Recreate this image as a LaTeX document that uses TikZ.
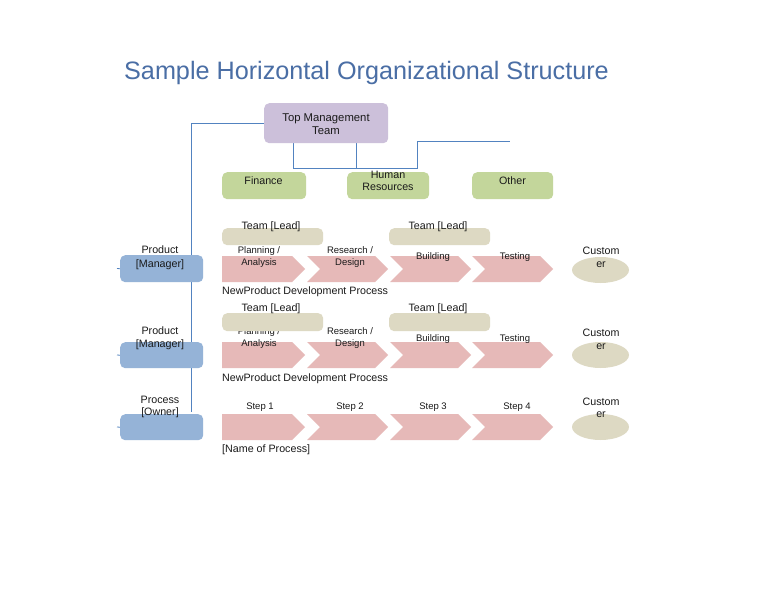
\documentclass[tikz,border=0pt]{standalone}
\usepackage{fontspec}
\setmainfont{Liberation Sans}
\usetikzlibrary{backgrounds,shapes.geometric}
\definecolor{titlec}{HTML}{4A6EA5}
\definecolor{linec}{HTML}{5283C0}
\definecolor{purplec}{HTML}{CCC0DA}
\definecolor{greenc}{HTML}{C3D69B}
\definecolor{beigec}{HTML}{DDD9C3}
\definecolor{pinkc}{HTML}{E6B9B8}
\definecolor{bluec}{HTML}{95B3D7}
\definecolor{textc}{HTML}{1A1A1A}
\newcommand\mkchev[3]{\fill[pinkc] (#1,#3) -- (#2-13,#3) -- (#2,#3+13) -- (#2-13,#3+26) -- (#1,#3+26) -- (#1+13,#3+13) -- cycle;}
\newcommand\mkpent[3]{\fill[pinkc] (#1,#3) -- (#2-13,#3) -- (#2,#3+13) -- (#2-13,#3+26) -- (#1,#3+26) -- cycle;}
\tikzset{
  conn/.style={draw=linec, line width=0.8pt},
  rbox/.style={rounded corners=5pt, inner sep=0pt, anchor=north west, draw=none},
  txt/.style={inner sep=0pt, align=center, text=textc, yshift=-1.2pt, font=\fontsize{10.7}{13}\selectfont},
  stxt/.style={inner sep=0pt, align=center, text=textc, yshift=-1.2pt, font=\fontsize{9.5}{12}\selectfont},
  cust/.style={ellipse, fill=beigec, minimum width=57pt, minimum height=26pt, inner sep=0pt},
}
\begin{document}
\begin{tikzpicture}[x=1pt,y=-1pt]
\useasboundingbox (0,0) rectangle (768,594);

% title
\node[inner sep=0pt, text=titlec, font=\fontsize{25.2}{29}\selectfont] (title) at (366.5,72.5) {Sample Horizontal Organizational Structure};

% top management and departments
\node[rbox, fill=purplec, minimum width=124pt, minimum height=40pt] (tmt) at (264,103) {};
\node[txt, font=\fontsize{11.3}{13}\selectfont] (tmtt) at (326,122.5) {Top Management\\Team};
\node[rbox, fill=greenc, minimum width=84pt, minimum height=27pt] (fin) at (222,172) {};
\node[txt] (fint) at (263.5,179.5) {Finance};
\node[rbox, fill=greenc, minimum width=82pt, minimum height=27pt] (hr) at (347,172) {};
\node[txt, font=\fontsize{10.7}{12}\selectfont] (hrt) at (388,180) {Human\\Resources};
\node[rbox, fill=greenc, minimum width=81pt, minimum height=27pt] (oth) at (472,172) {};
\node[txt] (otht) at (512.5,179.5) {Other};

% ---------- row 1 ----------
\mkpent{222}{305}{256}
\mkchev{307}{388}{256}
\mkchev{390}{471}{256}
\mkchev{472}{553}{256}
\node[stxt] (r1a) at (259,256) {Planning /\\Analysis};
\node[stxt] (r1b) at (350,256) {Research /\\Design};
\node[stxt] (r1c) at (433,256) {Building};
\node[stxt] (r1d) at (515,256) {Testing};
\node[rbox, fill=beigec, minimum width=101pt, minimum height=17pt] (l1a) at (222,228) {};
\node[rbox, fill=beigec, minimum width=101pt, minimum height=17pt] (l1b) at (389,228) {};
\node[txt] (l1at) at (271,226) {Team [Lead]};
\node[txt] (l1bt) at (438,226) {Team [Lead]};
\node[rbox, fill=bluec, minimum width=83pt, minimum height=27pt] (pm1) at (120,255) {};
\node[txt, font=\fontsize{10.7}{14}\selectfont] (pm1t) at (160,256.5) {Product\\{[Manager]}};
\node[cust] (c1) at (600.5,270) {};
\node[txt] (c1t) at (601,256.5) {Custom\\er};
\node[txt, anchor=west] (n1) at (222,291) {NewProduct Development Process};

% ---------- row 2 ----------
\mkpent{222}{305}{342}
\mkchev{307}{388}{342}
\mkchev{390}{471}{342}
\mkchev{472}{553}{342}
\node[stxt] (r2a) at (259,337) {Planning /\\Analysis};
\node[stxt] (r2b) at (350,337) {Research /\\Design};
\node[stxt] (r2c) at (433,338) {Building};
\node[stxt] (r2d) at (515,338) {Testing};
\node[rbox, fill=beigec, minimum width=101pt, minimum height=18pt] (l2a) at (222,313) {};
\node[rbox, fill=beigec, minimum width=101pt, minimum height=18pt] (l2b) at (389,313) {};
\node[txt] (l2at) at (271,308) {Team [Lead]};
\node[txt] (l2bt) at (438,308) {Team [Lead]};
\node[rbox, fill=bluec, minimum width=83pt, minimum height=26pt] (pm2) at (120,342) {};
\node[txt] (pm2t) at (160,337) {Product\\{[Manager]}};
\node[cust] (c2) at (600.5,355) {};
\node[txt] (c2t) at (601,338.5) {Custom\\er};
\node[txt, anchor=west] (n2) at (222,378) {NewProduct Development Process};

% ---------- row 3 ----------
\mkpent{222}{305}{414}
\mkchev{307}{388}{414}
\mkchev{390}{471}{414}
\mkchev{472}{553}{414}
\node[stxt] (s1) at (260,405.5) {Step 1};
\node[stxt] (s2) at (350,405.5) {Step 2};
\node[stxt] (s3) at (433,405.5) {Step 3};
\node[stxt] (s4) at (517,405.5) {Step 4};
\node[rbox, fill=bluec, minimum width=83pt, minimum height=26pt] (po) at (120,414) {};
\node[txt, font=\fontsize{10.7}{12}\selectfont] (pot) at (160,405.5) {Process\\{[Owner]}};
\node[cust] (c3) at (600.5,427) {};
\node[txt, font=\fontsize{10.7}{12}\selectfont] (c3t) at (601,406.5) {Custom\\er};
\node[txt, anchor=west] (n3) at (222,449) {[Name of Process]};

% connectors
\coordinate (pend) at (191,412);
\coordinate (b1) at (293,168);
\coordinate (b2) at (356,168);
\coordinate (q1) at (417,141);
\coordinate (q2) at (510,141);
\coordinate (k1) at (117,268.5);
\coordinate (k2) at (117,355);
\coordinate (k3) at (117,427);
\begin{scope}[on background layer]
\fill[white] (0,0) rectangle (768,594);
\draw[conn] (tmt.west) -| (pend);
\draw[conn] (tmt.south -| b1) -- (b1) -- (b2 -| q1) -- (q1) -- (q2);
\draw[conn] (tmt.south -| b2) -- (b2);
\draw[conn] (k1) -- (pm1.west);
\draw[conn] (k2) -- (pm2.west);
\draw[conn] (k3) -- (po.west);
\end{scope}
\end{tikzpicture}
\end{document}
